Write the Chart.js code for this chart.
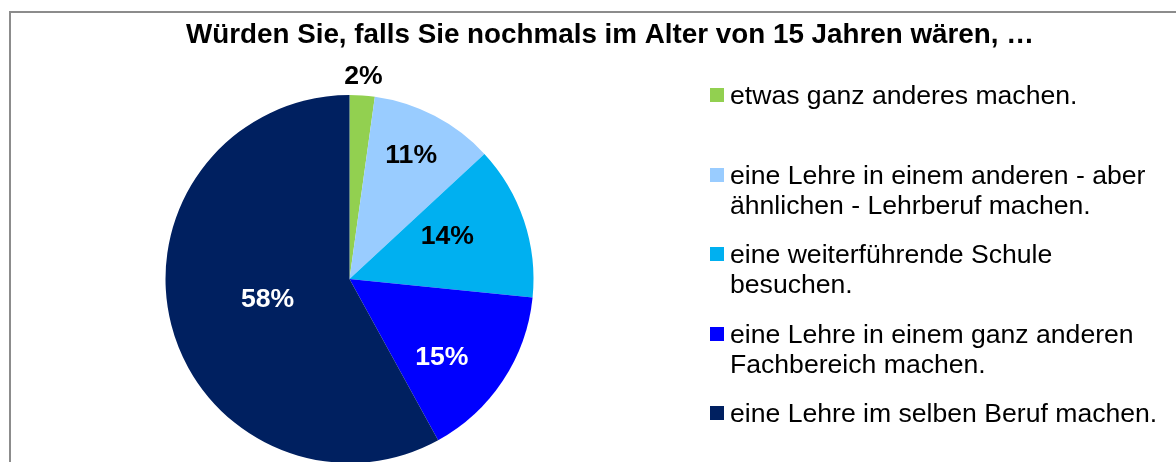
<!DOCTYPE html>
<html>
<head>
<meta charset="utf-8">
<script src="https://cdn.jsdelivr.net/npm/chart.js@4"></script>
<style>
  html, body { margin:0; padding:0; background:#fff; overflow:hidden; }
  #wrap { position:relative; width:1176px; height:462px; overflow:hidden; }
  canvas { display:block; }
</style>
</head>
<body>
<div id="wrap"><canvas id="chart-pie" width="1176" height="500"></canvas></div>
<script>
const TITLE = 'Würden Sie, falls Sie nochmals im Alter von 15 Jahren wären, …';

const labels = [
  'etwas ganz anderes machen.',
  'eine Lehre in einem anderen - aber ähnlichen - Lehrberuf machen.',
  'eine weiterführende Schule besuchen.',
  'eine Lehre in einem ganz anderen Fachbereich machen.',
  'eine Lehre im selben Beruf machen.'
];
const legendLines = [
  ['etwas ganz anderes machen.'],
  ['eine Lehre in einem anderen - aber', 'ähnlichen - Lehrberuf machen.'],
  ['eine weiterführende Schule', 'besuchen.'],
  ['eine Lehre in einem ganz anderen', 'Fachbereich machen.'],
  ['eine Lehre im selben Beruf machen.']
];
const shares = [2.2, 10.9, 13.5, 15.4, 58.0];
const valueLabels = ['2%', '11%', '14%', '15%', '58%'];
const colors = ['#92D050', '#99CCFF', '#00B0F0', '#0000FF', '#002060'];
const labelColors = ['#000', '#000', '#000', '#fff', '#fff'];

// label placement: distance from centre as fraction of radius, angle shift (deg)
const labelDist = [1.1, 0.75, 0.58, 0.66, 0.46];
const labelShift = [0, -1, -5, 7, 0];
// legend rows: y of first line
const legendY = [95, 175, 254, 334, 413];

const decor = {
  id: 'decor',
  beforeDraw(chart) {
    const c = chart.ctx;
    c.save();
    c.strokeStyle = '#8c8c8c';
    c.lineWidth = 2;
    c.beginPath();
    c.moveTo(10, 600);
    c.lineTo(10, 12);
    c.lineTo(1200, 12);
    c.stroke();
    c.fillStyle = '#000';
    c.font = 'bold 27.8px "Liberation Sans", Arial, sans-serif';
    c.textAlign = 'center';
    c.textBaseline = 'middle';
    c.fillText(TITLE, 610, 35);
    c.restore();
  },
  afterDraw(chart) {
    const c = chart.ctx;
    const meta = chart.getDatasetMeta(0);
    c.save();
    c.font = 'bold 26.6px "Liberation Sans", Arial, sans-serif';
    c.textAlign = 'center';
    c.textBaseline = 'middle';
    meta.data.forEach((arc, i) => {
      const p = arc.getProps(['x', 'y', 'startAngle', 'endAngle', 'outerRadius'], true);
      const mid = (p.startAngle + p.endAngle) / 2 + labelShift[i] * Math.PI / 180;
      const d = p.outerRadius * labelDist[i];
      c.fillStyle = labelColors[i];
      c.fillText(valueLabels[i], p.x + Math.cos(mid) * d, p.y + Math.sin(mid) * d);
    });
    // legend
    c.font = '26.6px "Liberation Sans", Arial, sans-serif';
    c.textAlign = 'left';
    legendLines.forEach((lines, i) => {
      c.fillStyle = colors[i];
      c.fillRect(710, legendY[i] - 7, 14, 14);
      c.fillStyle = '#000';
      lines.forEach((t, j) => c.fillText(t, 730, legendY[i] + 2 + j * 30));
    });
    c.restore();
  }
};

new Chart(document.getElementById('chart-pie'), {
  type: 'pie',
  data: {
    labels,
    datasets: [{
      data: shares,
      backgroundColor: colors,
      borderWidth: 0
    }]
  },
  options: {
    responsive: false,
    animation: false,
    layout: { padding: { left: 165, right: 642, top: 95, bottom: 37 } },
    plugins: { legend: { display: false }, tooltip: { enabled: false }, title: { display: false } }
  },
  plugins: [decor]
});
</script>
</body>
</html>
